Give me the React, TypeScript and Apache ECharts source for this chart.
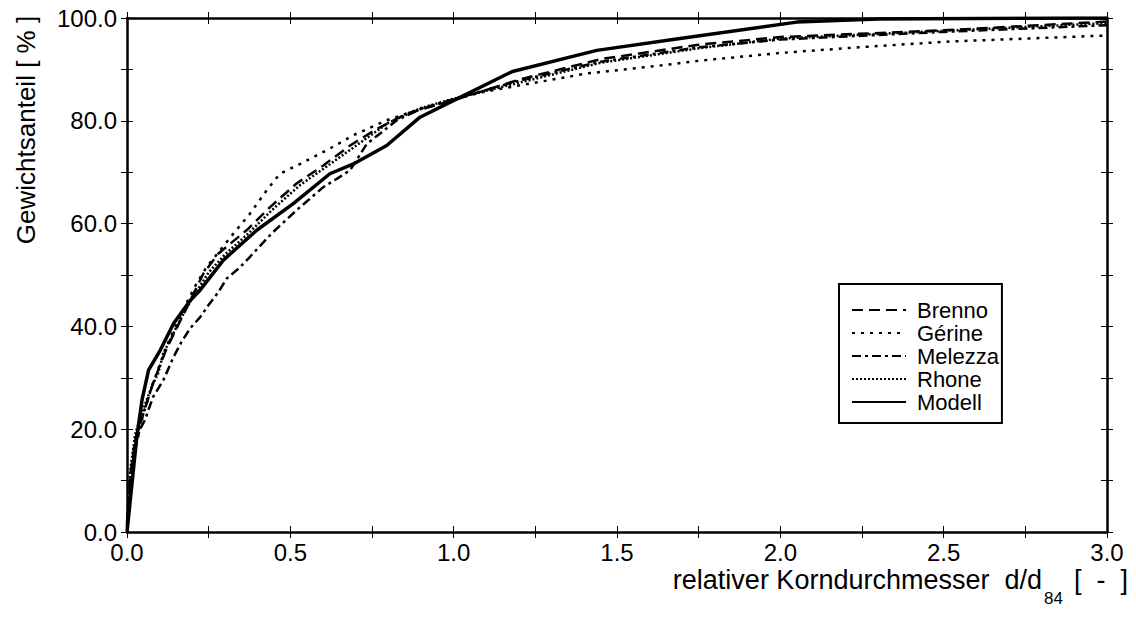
import React, { useEffect, useRef } from 'react';
import * as echarts from 'echarts';

const seriesNames = ['Brenno', 'Gérine', 'Melezza', 'Rhone', 'Modell'];

const brenno: number[][] = [[0,1.5],[0.01,11],[0.025,18],[0.05,23],[0.08,29],[0.12,35.5],[0.17,42],[0.234,50.3],[0.28,54.2],[0.366,58.7],[0.438,63.2],[0.519,67.8],[0.601,71.3],[0.683,75.2],[0.764,78.4],[0.856,81.4],[1.0,84],[1.2,88],[1.45,92],[1.75,94.8],[2.0,96.3],[2.5,97.6],[3.0,99.3]];
const gerine: number[][] = [[0,1],[0.01,9],[0.025,16],[0.05,23],[0.08,29],[0.12,36],[0.17,43],[0.21,48],[0.244,51.6],[0.285,54.8],[0.325,58],[0.376,61.9],[0.428,66.5],[0.468,69.7],[0.53,71.6],[0.621,74.6],[0.693,77.2],[0.795,80.1],[0.897,82.3],[1.0,84.2],[1.09,85.6],[1.203,86.9],[1.407,89.2],[1.64,90.8],[1.754,91.7],[2.0,93.2],[2.24,94.3],[2.51,95.4],[3.0,96.6]];
const melezza: number[][] = [[0,1],[0.01,10],[0.025,17],[0.04,20],[0.055,21.8],[0.08,26.3],[0.111,29.5],[0.142,34],[0.167,37],[0.193,39.6],[0.224,41.8],[0.249,44.1],[0.28,46.7],[0.305,49.3],[0.341,51.2],[0.376,53.5],[0.443,58.1],[0.519,62.6],[0.601,67.1],[0.642,68.7],[0.683,70.4],[0.734,75.5],[0.774,77.5],[0.826,80.1],[0.9,82.3],[1.0,84.2],[1.2,87.8],[1.45,91.5],[1.75,94.3],[2.0,95.8],[2.5,97.3],[3.0,98.6]];
const rhone: number[][] = [[0,2],[0.01,12],[0.025,19],[0.05,24],[0.076,28.3],[0.096,31],[0.111,34.7],[0.137,38],[0.162,41.2],[0.2,45.5],[0.25,50.5],[0.3,54],[0.37,58],[0.45,63],[0.53,67.5],[0.62,71.5],[0.72,76],[0.8,79.6],[0.9,82.5],[1.0,84.3],[1.2,87.4],[1.45,91.3],[1.75,94.1],[2.0,96],[2.5,97.5],[3.0,99]];
const modell: number[][] = [[0,0],[0.03,18.5],[0.046,25.7],[0.066,31.5],[0.102,35.4],[0.143,40.6],[0.194,45.1],[0.223,47],[0.295,52.9],[0.397,58.7],[0.509,63.9],[0.621,69.7],[0.693,71.6],[0.795,75.2],[0.897,80.7],[0.979,83.3],[1.18,89.6],[1.438,93.7],[1.693,96],[2.05,99.2],[2.3,99.8],[2.9,100],[3,100]];

const xMin = 0, xMax = 3, xStep = 0.25;
const yMin = 0, yMax = 100, yStep = 10;

const FONT = 'Liberation Sans, Arial, sans-serif';

export default function App() {
  const ref = useRef<HTMLDivElement>(null);
  useEffect(() => {
    if (!ref.current) return;
    const chart = echarts.init(ref.current, null, { renderer: 'svg' });
    const grid = { left: 127, right: 29, top: 18, bottom: 87 };
    const lineAx = { show: true, onZero: false, lineStyle: { color: '#000', width: 2.5 } };
    const noLine = { show: false, onZero: false };
    const tick = (inside: boolean) => ({ show: true, inside, length: 6, lineStyle: { color: '#000', width: 1 } });
    const xBase = { type: 'value', min: xMin, max: xMax, interval: xStep, splitLine: { show: false } };
    const yBase = { type: 'value', min: yMin, max: yMax, interval: yStep, splitLine: { show: false } };
    const labelStyle = { color: '#000', fontSize: 24, fontFamily: FONT };
    const mk = (data: number[][], type: any, width: number) => ({
      type: 'line', data, symbol: 'none', smooth: false, xAxisIndex: 0, yAxisIndex: 0,
      lineStyle: { color: '#000', width, type, cap: 'butt' }, itemStyle: { color: '#000' },
    });
    chart.setOption({
      animation: false,
      backgroundColor: '#fff',
      grid: [grid, grid],
      xAxis: [
        { ...xBase, gridIndex: 0, position: 'bottom', axisLine: lineAx, axisTick: tick(false),
          axisLabel: { ...labelStyle, margin: 8, formatter: (v: number) => (Math.abs(v * 2 - Math.round(v * 2)) < 1e-6 ? v.toFixed(1) : '') } },
        { ...xBase, gridIndex: 0, position: 'top', axisLine: lineAx, axisTick: tick(false), axisLabel: { show: false } },
        { ...xBase, gridIndex: 1, position: 'bottom', axisLine: noLine, axisTick: tick(true), axisLabel: { show: false } },
        { ...xBase, gridIndex: 1, position: 'top', axisLine: noLine, axisTick: tick(true), axisLabel: { show: false } },
      ],
      yAxis: [
        { ...yBase, gridIndex: 0, position: 'left', axisLine: lineAx, axisTick: tick(false),
          axisLabel: { ...labelStyle, margin: 10, formatter: (v: number) => (Math.round(v) % 20 === 0 ? v.toFixed(1) : '') } },
        { ...yBase, gridIndex: 0, position: 'right', axisLine: lineAx, axisTick: tick(false), axisLabel: { show: false } },
        { ...yBase, gridIndex: 1, position: 'left', axisLine: noLine, axisTick: tick(true), axisLabel: { show: false } },
        { ...yBase, gridIndex: 1, position: 'right', axisLine: noLine, axisTick: tick(true), axisLabel: { show: false } },
      ],
      legend: {
        orient: 'vertical', left: 839, top: 284, data: seriesNames,
        itemWidth: 54, itemHeight: 14, itemGap: 1,
        borderColor: '#000', borderWidth: 2, borderRadius: 0, padding: [15, 3, 10, 12],
        backgroundColor: '#fff',
        itemStyle: { opacity: 0, borderWidth: 0 },
        textStyle: { color: '#000', fontSize: 22, fontFamily: FONT, padding: [0, 0, 0, 6] },
      },
      series: [
        { name: seriesNames[0], ...mk(brenno, [11, 6], 2.5) },
        { name: seriesNames[1], ...mk(gerine, [3, 6], 2.5) },
        { name: seriesNames[2], ...mk(melezza, [9, 4, 3, 4], 2.5) },
        { name: seriesNames[3], ...mk(rhone, [2, 2], 2.5) },
        { name: seriesNames[4], ...mk(modell, 'solid', 3.5) },
      ],
      graphic: [
        { type: 'text', x: 26, y: 130, rotation: Math.PI / 2,
          style: { text: 'Gewichtsanteil [ % ]', fill: '#000', font: `26px ${FONT}`, align: 'center', verticalAlign: 'middle' } },
        { type: 'text', x: 1042, y: 580,
          style: { text: 'relativer Korndurchmesser  d/d', fill: '#000', font: `27px ${FONT}`, align: 'right', verticalAlign: 'middle' } },
        { type: 'text', x: 1044, y: 598,
          style: { text: '84', fill: '#000', font: `17px ${FONT}`, align: 'left', verticalAlign: 'middle' } },
        { type: 'text', x: 1128, y: 580,
          style: { text: '[  -  ]', fill: '#000', font: `27px ${FONT}`, align: 'right', verticalAlign: 'middle' } },
      ],
    });
    return () => chart.dispose();
  }, []);
  return <div ref={ref} style={{ position: 'fixed', left: 0, top: 0, width: 1136, height: 619 }} />;
}
